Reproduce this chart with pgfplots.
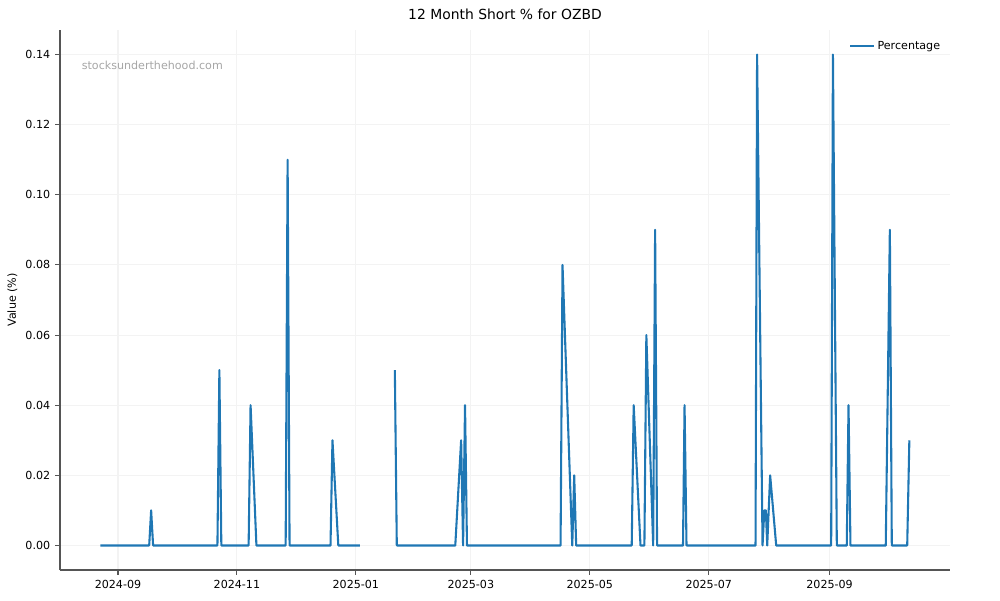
\documentclass[border=0pt]{standalone}
\usepackage{pgfplots}
\pgfplotsset{compat=1.18}
\usepackage{fontspec}
\setmainfont{DejaVu Sans}
\definecolor{mplblue}{HTML}{1F77B4}
\definecolor{gridc}{HTML}{F3F3F3}
\definecolor{spinec}{HTML}{555555}
\begin{document}
\begin{tikzpicture}[x=1pt,y=1pt]
\useasboundingbox (0,0) rectangle (720,432);
\begin{axis}[
  at={(43.2pt,21.6pt)}, anchor=south west,
  scale only axis, width=640.8pt, height=388.8pt,
  xmin=-29.75, xmax=426.75, ymin=-0.007, ymax=0.147,
  axis x line*=bottom, axis y line*=left,
  axis line style={spinec, line width=0.8pt},
  xtick={0,61,122,181,242,303,365},
  xticklabels={2024-09,2024-11,2025-01,2025-03,2025-05,2025-07,2025-09},
  ytick={0,0.02,0.04,0.06,0.08,0.10,0.12,0.14},
  yticklabel style={/pgf/number format/.cd, fixed, fixed zerofill, precision=2},
  scaled y ticks=false,
  /pgf/number format/assume math mode=true,
  tick label style={font=\fontsize{8}{9}\selectfont, black},
  tick style={spinec, line width=0.8pt},
  tick align=outside, major tick length=3.5pt,
  xtick pos=bottom, ytick pos=left,
  grid=major, major grid style={gridc, line width=0.8pt},
  unbounded coords=jump,
  title={12 Month Short \% for OZBD},
  title style={font=\fontsize{10}{12}\selectfont, yshift=-2pt},
  ylabel={Value (\%)},
  ylabel style={font=\fontsize{8}{9}\selectfont, xshift=0pt, yshift=-1pt},
  legend style={draw=none, fill=none, at={(0.997,0.990)}, anchor=north east, font=\fontsize{8}{9}\selectfont},
  legend cell align=left,
]
\addplot[mplblue, line width=1.5pt, line join=round] coordinates {
(-9,0) (16,0) (17,0.01) (18,0)
(51,0) (52,0.05) (53,0)
(67,0) (68,0.04) (71,0)
(86,0) (87,0.11) (88,0)
(109,0) (110,0.03) (113,0) (124,0)
(124.5,nan)
(142,0.05) (143,0)
(173,0) (176,0.03) (177,0) (178,0.04) (179,0)
(227,0) (228,0.08) (233,0) (234,0.02) (235,0)
(263.5,0) (264.5,0.04) (268,0) (270,0) (271,0.06) (274.5,0) (275.5,0.09) (276.5,0)
(289.8,0) (290.6,0.04) (291.6,0)
(327,0) (327.8,0.14) (330.6,0) (331.5,0.01) (332.3,0.01) (333,0) (334.5,0.02) (337.6,0)
(365.8,0) (366.7,0.14) (368.7,0) (373.8,0) (374.7,0.04) (375.7,0)
(393.8,0) (395.9,0.09) (396.9,0) (404.8,0) (405.9,0.03)
};
\addlegendentry{Percentage}
\node[anchor=west, text=gray!70, font=\fontsize{8}{9}\selectfont] at (rel axis cs:0.019,0.935) {stocksunderthehood.com};
\end{axis}
\end{tikzpicture}
\end{document}
